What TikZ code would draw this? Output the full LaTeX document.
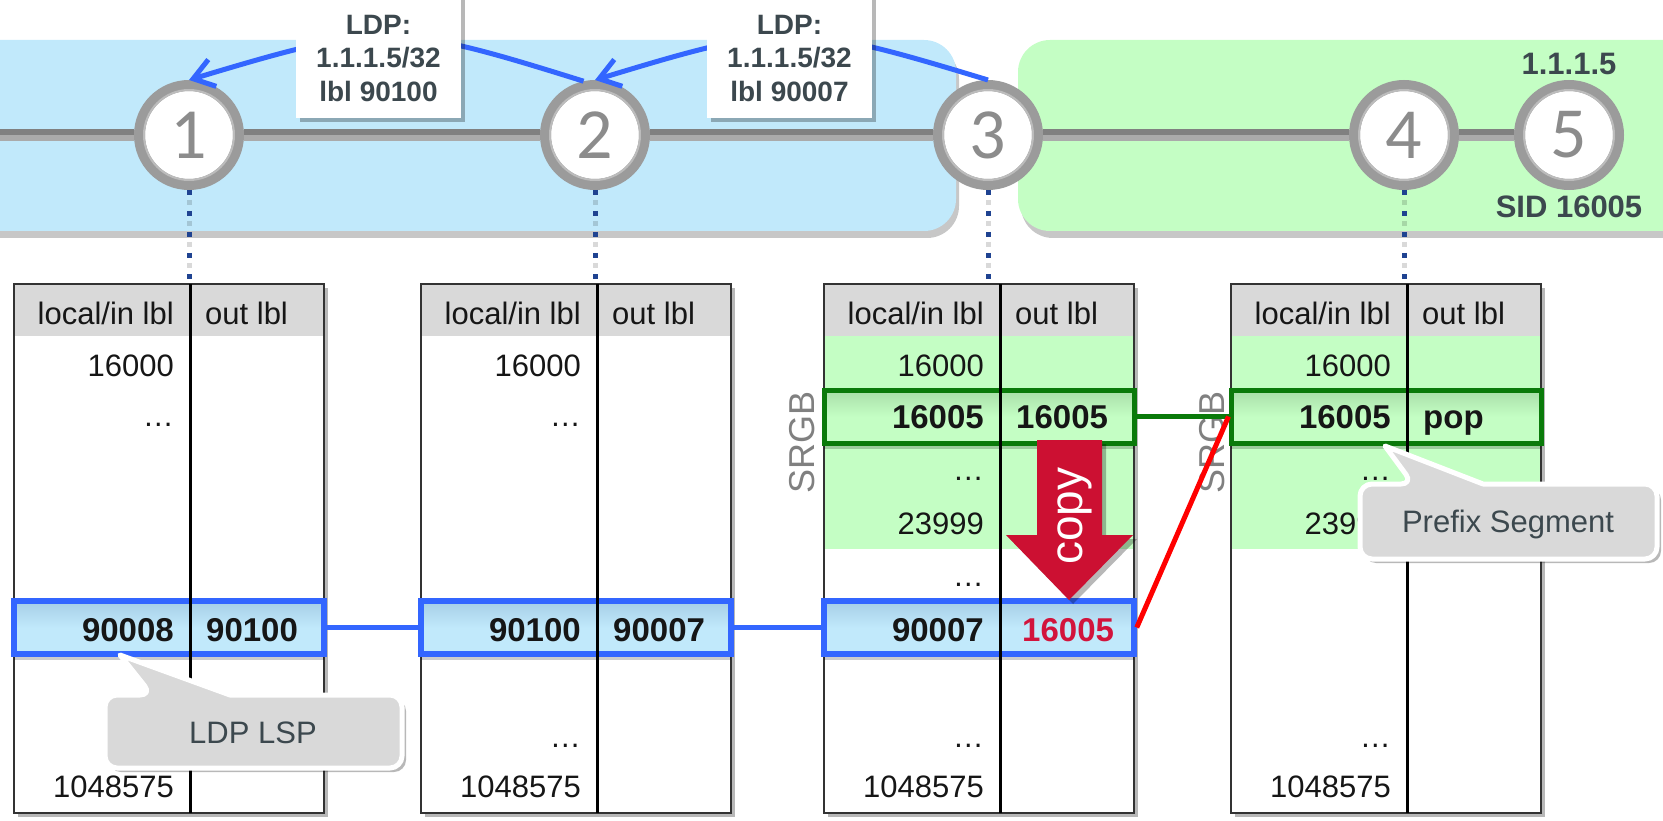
\documentclass[tikz,border=0pt]{standalone}
\usepackage{fontspec}
\setmainfont{Liberation Sans}
\newfontfamily\calfont{Carlito}
\usetikzlibrary{arrows.meta,shadows}
\definecolor{bandblue}{RGB}{193,233,251}
\definecolor{bandgreen}{RGB}{196,254,196}
\definecolor{rowbluetop}{RGB}{166,206,230}
\definecolor{rowgreentop}{RGB}{168,222,168}
\definecolor{hdrgray}{RGB}{217,217,217}
\definecolor{ringgray}{RGB}{155,155,155}
\definecolor{ringlight}{RGB}{188,188,188}
\definecolor{numgray}{RGB}{140,140,140}
\definecolor{slate}{RGB}{60,72,78}
\definecolor{ldpblue}{RGB}{51,102,255}
\definecolor{dotblue}{RGB}{31,67,145}
\definecolor{boxgreen}{RGB}{10,122,10}
\definecolor{copyred}{RGB}{204,16,50}
\definecolor{redtxt}{RGB}{210,20,60}
\definecolor{txt}{RGB}{22,22,22}
\definecolor{srgbgray}{RGB}{128,128,128}
\definecolor{linkdark}{RGB}{128,128,128}
\definecolor{linklight}{RGB}{170,170,170}
\tikzset{
  softshadow/.style={drop shadow={shadow xshift=4pt,shadow yshift=-4pt,opacity=0.28,fill=black}},
  bandshadow/.style={drop shadow={shadow xshift=3pt,shadow yshift=-7pt,opacity=0.22,fill=black}},
  router/.style={circle,draw=ringgray,line width=11pt,fill=white,minimum size=99pt,inner sep=0pt,
    font=\calfont\fontsize{72}{72}\selectfont,text=numgray},
  linkbase/.style={line width=12pt,draw=linklight},
  linktop/.style={line width=6pt,draw=linkdark,transform canvas={yshift=3pt}},
  ldparrow/.style={draw=ldpblue,line width=5pt,-{Straight Barb[length=20pt,width=28pt]}},
  dotline/.style={draw=dotblue,line width=5pt,dash pattern=on 5pt off 16pt},
  dotshade/.style={draw=black,opacity=0.15,line width=5pt,dash pattern=on 5pt off 16pt,dash phase=11pt},
  tframe/.style={rectangle,minimum width=310pt,minimum height=529pt,fill=white,inner sep=0pt,outer sep=0pt,softshadow},
  tborder/.style={draw=black!80,line width=1.8pt},
  tdiv/.style={draw=black,line width=3pt},
  bluerow/.style={rectangle,minimum width=310pt,minimum height=53pt,draw=ldpblue,line width=5.5pt,
    top color=rowbluetop,bottom color=bandblue,middle color=bandblue,inner sep=0pt,
    drop shadow={shadow xshift=0pt,shadow yshift=-6pt,opacity=0.2,fill=black}},
  greenrow/.style={rectangle,minimum width=310pt,minimum height=53pt,draw=boxgreen,line width=5pt,
    top color=rowgreentop,bottom color=bandgreen,middle color=bandgreen,inner sep=0pt,
    drop shadow={shadow xshift=0pt,shadow yshift=-6pt,opacity=0.2,fill=black}},
  cell/.style={font=\fontsize{31}{31}\selectfont,text=txt,inner sep=0pt},
  cellb/.style={font=\bfseries\fontsize{33}{33}\selectfont,text=txt,inner sep=0pt},
  lcol/.style={anchor=base east},
  rcol/.style={anchor=base west},
  srgb/.style={rotate=90,font=\fontsize{36}{36}\selectfont,text=srgbgray,inner sep=0pt},
  lbl/.style={font=\bfseries\fontsize{31}{31}\selectfont,text=slate,inner sep=0pt,anchor=base},
  ldpbox/.style={rectangle,fill=white,inner sep=0pt,minimum width=165pt,minimum height=124pt,softshadow},
  ldptxt/.style={font=\bfseries\fontsize{28}{28}\selectfont,text=slate,inner sep=0pt,anchor=base},
  callout/.style={draw=white,line width=5pt,fill=hdrgray,line join=round,softshadow},
  callouttxt/.style={font=\fontsize{31}{31}\selectfont,text=slate,inner sep=0pt,anchor=base},
  bluelink/.style={draw=ldpblue,line width=5pt},
  greenlink/.style={draw=boxgreen,line width=5pt},
  redlink/.style={draw=red,line width=5pt},
  copyarrow/.style={fill=copyred,softshadow},
  copytxt/.style={rotate=90,text=white,font=\fontsize{46}{46}\selectfont,inner sep=0pt}
}
\begin{document}
\begin{tikzpicture}[x=1pt,y=-1pt]
\useasboundingbox (0,0) rectangle (1663,821);

% domain bands
\path[fill=bandblue,rounded corners=32pt,bandshadow] (-60,40) rectangle (956,231);
\path[fill=bandgreen,rounded corners=32pt,bandshadow] (1018,40) rectangle (1740,231);

% routers
\node[router] (n1) at (189,135) {1};
\node[router] (n2) at (595,135) {2};
\node[router] (n3) at (988,135) {3};
\node[router] (n4) at (1404,135) {4};
\node[router] (n5) at (1569,135) {5};
\foreach \n in {n1,n2,n3,n4,n5}
  \draw[ringlight,line width=2pt] (\n.center) circle[radius=45pt];

% links
\coordinate (lstart) at (0,135);
\foreach \a/\b in {lstart/n1,n1/n2,n2/n3,n3/n4,n4/n5}{
  \draw[linkbase] (\a.east) -- (\b.west);
  \draw[linktop] (\a.east) -- (\b.west);
}

% router 5 labels
\node[lbl] (ip5) at (1569,75) {1.1.1.5};
\node[lbl] (sid5) at (1569,218) {SID 16005};

% LDP advertisements
\draw[ldparrow] (n3.north) .. controls (797,22) and (786,22) .. (n2.north);
\draw[ldparrow] (n2.102) .. controls (394,22) and (382,22) .. (n1.north);

\node[ldpbox] (b1) at (378.5,56) {};
\node[ldptxt] (b1a) at (378.5,35) {LDP:};
\node[ldptxt] (b1b) at (378.5,68) {1.1.1.5/32};
\node[ldptxt] (b1c) at (378.5,102) {lbl 90100};
\node[ldpbox] (b2) at (789.5,56) {};
\node[ldptxt] (b2a) at (789.5,35) {LDP:};
\node[ldptxt] (b2b) at (789.5,68) {1.1.1.5/32};
\node[ldptxt] (b2c) at (789.5,102) {lbl 90007};

% tables: frames and fills
\foreach \i/\L in {1/14,2/421,3/824,4/1231}{
  \node[tframe] (t\i) at (\L+155,548.5) {};
}
\fill[bandgreen] (824,336) rectangle (1134,549);
\fill[bandgreen] (1231,336) rectangle (1541,549);
\foreach \i/\L in {1/14,2/421,3/824,4/1231}{
  \fill[hdrgray] (\L,284) rectangle (\L+310,336);
  \draw[tborder] (t\i.north west) rectangle (t\i.south east);
}

% highlighted rows
\node[bluerow] (r1) at (169,627.5) {};
\node[bluerow] (r2) at (576,627.5) {};
\node[bluerow] (r3) at (979,627.5) {};
\node[greenrow] (g3) at (979,416.5) {};
\node[greenrow] (g4) at (1386,416.5) {};

% dividers and common texts
\foreach \i/\L in {1/14,2/421,3/824,4/1231}{
  \draw[tdiv] (\L+176,284) -- (\L+176,813);
  \node[cell,lcol] (hl\i) at (\L+160,324) {local/in lbl};
  \node[cell,rcol] (hr\i) at (\L+191,324) {out lbl};
  \node[cell,lcol] (fa\i) at (\L+160,376) {16000};
  \node[cell,lcol] (fz\i) at (\L+160,797) {1048575};
}

% table 1
\node[cell,lcol] (e11) at (174,426) {…};
\node[cellb,lcol] (v11) at (174,641) {90008};
\node[cellb,rcol] (v12) at (206,641) {90100};
% table 2
\node[cell,lcol] (e21) at (581,426) {…};
\node[cellb,lcol] (v21) at (581,641) {90100};
\node[cellb,rcol] (v22) at (613,641) {90007};
\node[cell,lcol] (e22) at (581,747) {…};
% table 3
\node[cellb,lcol] (s31) at (984,428) {16005};
\node[cellb,rcol] (s32) at (1016,428) {16005};
\node[cell,lcol] (e31) at (984,480) {…};
\node[cell,lcol] (z3) at (984,534) {23999};
\node[cell,lcol] (e32) at (984,586) {…};
\node[cellb,lcol] (v31) at (984,641) {90007};
\node[cellb,rcol,text=redtxt] (v32) at (1022,641) {16005};
\node[cell,lcol] (e33) at (984,747) {…};
% table 4
\node[cellb,lcol] (s41) at (1391,428) {16005};
\node[cellb,rcol] (s42) at (1423,428) {pop};
\node[cell,lcol] (e41) at (1391,480) {…};
\node[cell,lcol] (z4) at (1391,534) {23999};
\node[cell,lcol] (e42) at (1391,747) {…};

% SRGB labels
\node[srgb] (srgb3) at (802,442) {SRGB};
\node[srgb] (srgb4) at (1212,442) {SRGB};

% dotted drops from routers to tables
\foreach \n/\t in {n1/t1,n2/t2,n3/t3,n4/t4}{
  \draw[dotshade] (\n.south) -- (\n.south |- \t.north);
  \draw[dotline] (\n.south) -- (\n.south |- \t.north);
}

% connectors between tables
\draw[bluelink] (r1.east) -- (r2.west);
\draw[bluelink] (r2.east) -- (r3.west);
\draw[greenlink] (g3.east) -- (g4.west);
\draw[redlink] (r3.east) -- (g4.west);

% copy arrow
\fill[copyarrow] (1037,440) -- (1102,440) -- (1102,535) -- (1133,535) -- (1069,600)
  -- (1006,535) -- (1037,535) -- cycle;
\node[copytxt] (copy) at (1075,516) {copy};

% callouts
\draw[callout] (105,732) [rounded corners=12pt] -- (105,695) -- (152,695) [sharp corners]
  -- (120,655) -- (230,695) [rounded corners=12pt] -- (402,695) -- (402,768) -- (105,768) -- cycle;
\node[callouttxt] (ldplsp) at (253,743) {LDP LSP};
\draw[callout] (1360,521) [rounded corners=12pt] -- (1360,484) -- (1413,484) [sharp corners]
  -- (1385,446) -- (1483,484) [rounded corners=12pt] -- (1657,484) -- (1657,559) -- (1360,559) -- cycle;
\node[callouttxt] (prefseg) at (1508,532) {Prefix Segment};
\end{tikzpicture}
\end{document}
